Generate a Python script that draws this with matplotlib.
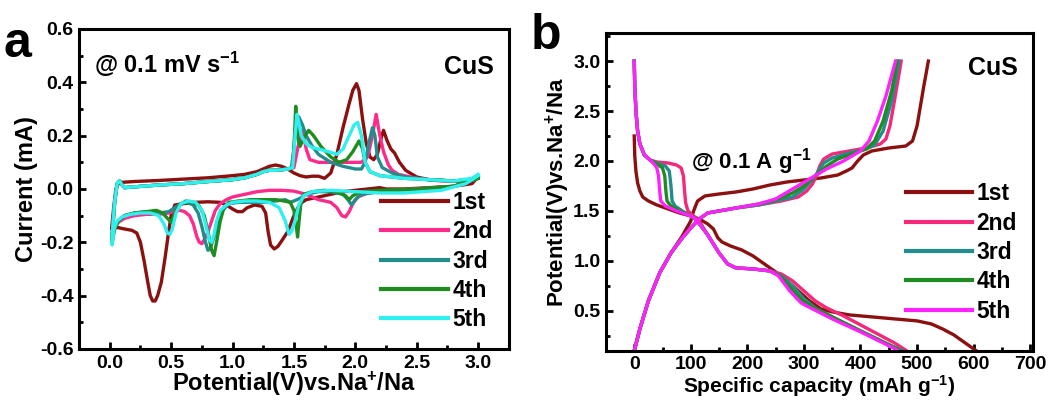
import matplotlib
matplotlib.use("Agg")
import matplotlib.pyplot as plt
from matplotlib.ticker import MultipleLocator

plt.rcParams['font.family'] = ['Liberation Sans', 'DejaVu Sans']
plt.rcParams['font.weight'] = 'bold'
plt.rcParams['mathtext.fontset'] = 'custom'
plt.rcParams['mathtext.rm'] = 'Liberation Sans:bold'
plt.rcParams['mathtext.bf'] = 'Liberation Sans:bold'
plt.rcParams['mathtext.it'] = 'Liberation Sans:bold'
plt.rcParams['mathtext.default'] = 'rm'

labels = ['1st', '2nd', '3rd', '4th', '5th']
colors_a = ['#8B1010', '#FF2A8A', '#238C8C', '#1E8C1E', '#2EF0F0']
colors_b = ['#8B1010', '#F5287A', '#238C8C', '#1E8C1E', '#FF22FF']

# ---------------- CV data (panel a) ----------------
base_v = [0.02, 0.04, 0.06, 0.08, 0.1, 0.12, 0.2, 0.4, 0.6, 0.8, 1.0, 1.1, 1.2, 1.25, 1.3, 1.35, 1.4, 1.45]
base_i = [-0.17, -0.05, 0.02, 0.03, 0.015, 0.005, 0.008, 0.015, 0.02, 0.028, 0.035, 0.042, 0.055, 0.065, 0.07, 0.07, 0.072, 0.075]

c1_cat_v = [3.0, 2.95, 2.8, 2.6, 2.4, 2.25, 2.2, 2.1, 2.0, 1.9, 1.8, 1.7, 1.6, 1.55, 1.5, 1.45, 1.4, 1.37, 1.34, 1.31, 1.29, 1.27, 1.24, 1.18, 1.12, 1.08, 1.04, 1.0, 0.95, 0.9, 0.8, 0.7, 0.6, 0.53, 0.5, 0.48, 0.45, 0.42, 0.39, 0.37, 0.35, 0.33, 0.31, 0.28, 0.25, 0.22, 0.18, 0.12, 0.07, 0.03, 0.015]
c1_cat_i = [0.045, 0.02, 0.01, 0.005, 0.0, 0.0, 0.005, 0.0, -0.005, -0.01, -0.02, -0.03, -0.04, -0.055, -0.1, -0.16, -0.195, -0.215, -0.225, -0.21, -0.16, -0.09, -0.065, -0.06, -0.07, -0.085, -0.085, -0.075, -0.06, -0.05, -0.048, -0.05, -0.055, -0.06, -0.1, -0.16, -0.26, -0.35, -0.4, -0.42, -0.42, -0.4, -0.35, -0.27, -0.2, -0.165, -0.155, -0.15, -0.145, -0.145, -0.15]
c1_an_v = [0.015, 0.03, 0.05, 0.07, 0.1, 0.2, 0.4, 0.6, 0.8, 1.0, 1.1, 1.2, 1.25, 1.3, 1.35, 1.4, 1.45, 1.5, 1.55, 1.6, 1.65, 1.7, 1.75, 1.8, 1.85, 1.9, 1.95, 1.98, 2.01, 2.03, 2.06, 2.09, 2.12, 2.15, 2.18, 2.21, 2.23, 2.26, 2.29, 2.32, 2.36, 2.41, 2.5, 2.6, 2.8, 2.9, 2.95, 3.0]
c1_an_i = [-0.15, -0.08, 0.0, 0.02, 0.025, 0.028, 0.032, 0.037, 0.042, 0.05, 0.055, 0.065, 0.075, 0.085, 0.09, 0.085, 0.075, 0.06, 0.05, 0.045, 0.048, 0.048, 0.04, 0.06, 0.13, 0.23, 0.32, 0.37, 0.395, 0.37, 0.26, 0.17, 0.12, 0.11, 0.13, 0.19, 0.22, 0.18, 0.15, 0.135, 0.1, 0.07, 0.045, 0.035, 0.03, 0.03, 0.035, 0.04]

c2_cat_v = [3.0, 2.8, 2.5, 2.3, 2.1, 2.02, 1.98, 1.95, 1.92, 1.89, 1.85, 1.8, 1.75, 1.7, 1.6, 1.5, 1.4, 1.3, 1.2, 1.1, 1.0, 0.95, 0.9, 0.86, 0.83, 0.8, 0.77, 0.75, 0.73, 0.71, 0.68, 0.65, 0.61, 0.57, 0.52, 0.48, 0.4, 0.3, 0.2, 0.12, 0.07, 0.04, 0.02]
c2_cat_i = [0.04, 0.01, 0.0, -0.005, -0.015, -0.03, -0.055, -0.085, -0.105, -0.1, -0.07, -0.05, -0.045, -0.04, -0.02, -0.008, -0.005, -0.005, -0.01, -0.02, -0.03, -0.04, -0.055, -0.08, -0.12, -0.16, -0.19, -0.205, -0.2, -0.18, -0.13, -0.1, -0.085, -0.08, -0.085, -0.09, -0.095, -0.095, -0.1, -0.11, -0.125, -0.145, -0.17]
c2_an_v = base_v + [1.5, 1.53, 1.56, 1.58, 1.6, 1.63, 1.7, 1.8, 1.9, 2.0, 2.05, 2.1, 2.14, 2.17, 2.2, 2.23, 2.27, 2.3, 2.35, 2.5, 2.7, 2.9, 3.0]
c2_an_i = base_i + [0.08, 0.15, 0.22, 0.2, 0.15, 0.11, 0.1, 0.1, 0.1, 0.1, 0.1, 0.12, 0.2, 0.28, 0.2, 0.14, 0.09, 0.07, 0.055, 0.04, 0.03, 0.03, 0.04]

c3_cat_v = [3.0, 2.8, 2.5, 2.2, 2.05, 2.0, 1.97, 1.94, 1.9, 1.8, 1.7, 1.6, 1.55, 1.5, 1.47, 1.43, 1.35, 1.25, 1.15, 1.05, 0.97, 0.92, 0.88, 0.85, 0.82, 0.8, 0.78, 0.75, 0.72, 0.68, 0.63, 0.58, 0.53, 0.48, 0.4, 0.3, 0.2, 0.12, 0.07, 0.04, 0.02]
c3_cat_i = [0.04, 0.01, 0.0, -0.01, -0.02, -0.04, -0.06, -0.04, -0.02, -0.01, -0.01, -0.02, -0.035, -0.045, -0.05, -0.04, -0.045, -0.05, -0.05, -0.05, -0.055, -0.08, -0.13, -0.18, -0.22, -0.23, -0.2, -0.14, -0.09, -0.06, -0.05, -0.055, -0.07, -0.085, -0.09, -0.085, -0.09, -0.1, -0.12, -0.14, -0.19]
c3_an_v = base_v + [1.48, 1.5, 1.52, 1.54, 1.57, 1.6, 1.65, 1.7, 1.8, 1.9, 2.0, 2.05, 2.08, 2.11, 2.14, 2.16, 2.18, 2.22, 2.3, 2.4, 2.6, 2.8, 2.95, 3.0]
c3_an_i = base_i + [0.08, 0.15, 0.26, 0.27, 0.24, 0.2, 0.16, 0.13, 0.1, 0.085, 0.075, 0.075, 0.1, 0.17, 0.23, 0.2, 0.12, 0.08, 0.06, 0.045, 0.035, 0.03, 0.035, 0.045]

c4_cat_v = [3.0, 2.8, 2.5, 2.2, 2.05, 1.98, 1.95, 1.92, 1.85, 1.75, 1.65, 1.58, 1.555, 1.54, 1.53, 1.52, 1.5, 1.47, 1.42, 1.35, 1.25, 1.15, 1.05, 0.97, 0.93, 0.9, 0.87, 0.85, 0.83, 0.8, 0.77, 0.73, 0.68, 0.62, 0.57, 0.53, 0.5, 0.47, 0.43, 0.38, 0.3, 0.2, 0.12, 0.07, 0.04, 0.02]
c4_cat_i = [0.04, 0.01, 0.0, -0.005, -0.01, -0.025, -0.04, -0.025, -0.01, -0.005, -0.01, -0.02, -0.06, -0.13, -0.18, -0.14, -0.08, -0.05, -0.045, -0.04, -0.04, -0.04, -0.045, -0.05, -0.07, -0.12, -0.2, -0.25, -0.23, -0.16, -0.1, -0.065, -0.05, -0.045, -0.06, -0.09, -0.125, -0.11, -0.09, -0.08, -0.085, -0.09, -0.1, -0.12, -0.15, -0.2]
c4_an_v = base_v + [1.49, 1.505, 1.515, 1.53, 1.55, 1.58, 1.62, 1.66, 1.72, 1.8, 1.87, 1.93, 1.98, 2.03, 2.06, 2.08, 2.12, 2.2, 2.4, 2.6, 2.8, 2.95, 3.0]
c4_an_i = base_i + [0.08, 0.2, 0.31, 0.2, 0.16, 0.19, 0.22, 0.2, 0.16, 0.12, 0.1, 0.11, 0.14, 0.18, 0.15, 0.1, 0.065, 0.05, 0.04, 0.035, 0.03, 0.035, 0.045]

c5_cat_v = [3.0, 2.9, 2.7, 2.4, 2.2, 2.0, 1.8, 1.65, 1.58, 1.54, 1.51, 1.48, 1.46, 1.43, 1.38, 1.3, 1.2, 1.1, 1.0, 0.95, 0.9, 0.87, 0.85, 0.83, 0.81, 0.78, 0.75, 0.7, 0.64, 0.58, 0.54, 0.51, 0.49, 0.47, 0.44, 0.4, 0.33, 0.25, 0.17, 0.1, 0.06, 0.035, 0.02]
c5_cat_i = [0.05, 0.02, -0.005, -0.015, -0.015, -0.01, -0.005, -0.01, -0.025, -0.06, -0.12, -0.16, -0.17, -0.12, -0.07, -0.05, -0.045, -0.045, -0.05, -0.06, -0.08, -0.12, -0.17, -0.2, -0.19, -0.13, -0.08, -0.05, -0.045, -0.055, -0.09, -0.15, -0.17, -0.165, -0.13, -0.1, -0.09, -0.09, -0.095, -0.105, -0.12, -0.15, -0.21]
c5_an_v = base_v + [1.49, 1.51, 1.525, 1.54, 1.56, 1.6, 1.65, 1.7, 1.78, 1.85, 1.9, 1.95, 1.99, 2.02, 2.05, 2.08, 2.12, 2.2, 2.4, 2.6, 2.8, 2.95, 3.0]
c5_an_i = base_i + [0.08, 0.2, 0.28, 0.25, 0.2, 0.17, 0.155, 0.15, 0.14, 0.13, 0.15, 0.2, 0.24, 0.25, 0.2, 0.1, 0.065, 0.05, 0.04, 0.035, 0.03, 0.04, 0.055]

cv_cycles = [
    (c1_cat_v, c1_cat_i, c1_an_v, c1_an_i),
    (c2_cat_v, c2_cat_i, c2_an_v, c2_an_i),
    (c3_cat_v, c3_cat_i, c3_an_v, c3_an_i),
    (c4_cat_v, c4_cat_i, c4_an_v, c4_an_i),
    (c5_cat_v, c5_cat_i, c5_an_v, c5_an_i),
]

# ---------------- GCD data (panel b) ----------------
d1_cap = [0, 1, 3, 6, 10, 15, 25, 40, 60, 80, 100, 115, 130, 140, 148, 155, 170, 190, 210, 230, 250, 270, 290, 310, 330, 350, 380, 420, 460, 500, 525, 545, 565, 585, 605]
d1_v = [2.25, 2.05, 1.9, 1.78, 1.7, 1.64, 1.6, 1.56, 1.52, 1.48, 1.45, 1.42, 1.37, 1.32, 1.23, 1.19, 1.15, 1.11, 1.05, 0.97, 0.89, 0.8, 0.7, 0.6, 0.52, 0.49, 0.46, 0.44, 0.42, 0.4, 0.37, 0.32, 0.26, 0.18, 0.1]
ch1_cap = [0, 10, 25, 45, 65, 85, 100, 105, 112, 125, 150, 180, 210, 240, 270, 300, 330, 360, 375, 385, 395, 405, 420, 450, 480, 492, 500, 506, 512, 520]
ch1_v = [0.1, 0.32, 0.6, 0.88, 1.08, 1.25, 1.4, 1.5, 1.6, 1.65, 1.67, 1.69, 1.72, 1.76, 1.79, 1.81, 1.83, 1.86, 1.9, 1.93, 2.0, 2.06, 2.1, 2.13, 2.15, 2.2, 2.35, 2.55, 2.75, 3.0]

d2_cap = [0, 1, 3, 6, 10, 18, 28, 40, 60, 75, 83, 87, 89, 91, 95, 105, 115, 130, 150, 165, 180, 210, 240, 260, 280, 300, 320, 340, 370, 400, 430, 460, 482]
d2_v = [3.0, 2.75, 2.5, 2.3, 2.17, 2.06, 2.01, 1.99, 1.98, 1.96, 1.93, 1.85, 1.7, 1.58, 1.5, 1.45, 1.4, 1.26, 1.08, 0.97, 0.93, 0.92, 0.9, 0.87, 0.8, 0.7, 0.6, 0.53, 0.45, 0.36, 0.27, 0.18, 0.1]
ch2_cap = [0, 10, 25, 45, 65, 85, 100, 115, 130, 150, 180, 220, 260, 290, 305, 315, 322, 328, 335, 350, 380, 410, 435, 445, 452, 460, 472]
ch2_v = [0.1, 0.32, 0.6, 0.88, 1.08, 1.23, 1.33, 1.42, 1.48, 1.5, 1.53, 1.56, 1.6, 1.64, 1.7, 1.77, 1.85, 1.95, 2.02, 2.07, 2.1, 2.13, 2.17, 2.22, 2.35, 2.6, 3.0]

d3_cap = [0, 1, 3, 6, 10, 18, 28, 40, 55, 62, 65, 67, 72, 85, 100, 110, 130, 150, 165, 180, 210, 240, 260, 280, 300, 320, 350, 400, 440, 475]
d3_v = [3.0, 2.75, 2.5, 2.3, 2.17, 2.06, 2.01, 1.98, 1.95, 1.9, 1.75, 1.6, 1.55, 1.5, 1.45, 1.41, 1.26, 1.08, 0.97, 0.93, 0.92, 0.9, 0.85, 0.75, 0.62, 0.53, 0.44, 0.3, 0.19, 0.1]
ch3_cap = [0, 10, 25, 45, 65, 85, 100, 115, 130, 150, 180, 220, 250, 280, 300, 320, 335, 350, 380, 410, 425, 440, 455, 468]
ch3_v = [0.1, 0.32, 0.6, 0.88, 1.08, 1.23, 1.33, 1.42, 1.48, 1.5, 1.53, 1.56, 1.6, 1.64, 1.72, 1.85, 1.98, 2.03, 2.08, 2.12, 2.16, 2.3, 2.6, 3.0]

d4_cap = [0, 1, 3, 6, 10, 18, 28, 40, 50, 54, 56, 58, 65, 80, 100, 110, 130, 150, 165, 180, 210, 240, 258, 278, 298, 318, 350, 400, 440, 472]
d4_v = [3.0, 2.75, 2.5, 2.3, 2.17, 2.06, 2.01, 1.97, 1.93, 1.85, 1.7, 1.6, 1.55, 1.5, 1.45, 1.41, 1.26, 1.08, 0.97, 0.93, 0.92, 0.9, 0.85, 0.72, 0.6, 0.53, 0.44, 0.3, 0.19, 0.1]
ch4_cap = [0, 10, 25, 45, 65, 85, 100, 115, 130, 150, 180, 220, 250, 280, 300, 320, 340, 360, 390, 410, 425, 440, 455, 465]
ch4_v = [0.1, 0.32, 0.6, 0.88, 1.08, 1.23, 1.33, 1.42, 1.48, 1.5, 1.53, 1.57, 1.61, 1.68, 1.75, 1.85, 1.95, 2.02, 2.08, 2.12, 2.2, 2.4, 2.7, 3.0]

d5_cap = [0, 1, 3, 6, 10, 18, 28, 35, 40, 43, 45, 47, 55, 75, 100, 110, 130, 150, 165, 180, 210, 240, 255, 275, 295, 315, 350, 400, 440, 468]
d5_v = [3.0, 2.75, 2.5, 2.3, 2.17, 2.06, 2.01, 1.97, 1.93, 1.85, 1.7, 1.6, 1.55, 1.5, 1.45, 1.41, 1.26, 1.08, 0.97, 0.93, 0.92, 0.9, 0.85, 0.7, 0.58, 0.52, 0.42, 0.29, 0.18, 0.1]
ch5_cap = [0, 10, 25, 45, 65, 85, 100, 115, 130, 150, 180, 220, 250, 280, 310, 340, 370, 400, 415, 430, 445, 462]
ch5_v = [0.1, 0.32, 0.6, 0.88, 1.08, 1.23, 1.33, 1.42, 1.48, 1.5, 1.53, 1.57, 1.62, 1.72, 1.82, 1.92, 2.0, 2.1, 2.2, 2.4, 2.65, 3.0]

gcd_cycles = [
    (d1_cap, d1_v, ch1_cap, ch1_v),
    (d2_cap, d2_v, ch2_cap, ch2_v),
    (d3_cap, d3_v, ch3_cap, ch3_v),
    (d4_cap, d4_v, ch4_cap, ch4_v),
    (d5_cap, d5_v, ch5_cap, ch5_v),
]

fig = plt.figure(figsize=(10.61, 4.01), dpi=100)
ax1 = fig.add_axes([0.0745, 0.1297, 0.405, 0.798])
ax2 = fig.add_axes([0.5711, 0.125, 0.4025, 0.7925])

lw = 2.4
for (cv, ci, av, ai), col, lab in zip(cv_cycles, colors_a, labels):
    ax1.plot(list(cv) + list(av), list(ci) + list(ai), color=col, lw=lw, label=lab,
             solid_joinstyle='round')

for (dc, dv, cc, chv), col, lab in zip(gcd_cycles, colors_b, labels):
    ax2.plot(dc, dv, color=col, lw=lw, label=lab, solid_joinstyle='round')
    ax2.plot(cc, chv, color=col, lw=lw, solid_joinstyle='round')

tick_fs = 14
for ax in (ax1, ax2):
    for s in ax.spines.values():
        s.set_linewidth(2.2)
    ax.tick_params(which='both', direction='in', width=2.0, labelsize=tick_fs, pad=4)
    ax.tick_params(which='major', length=5)
    ax.tick_params(which='minor', length=3)
    ax.tick_params(top=False, right=False)

ax1.set_xlim(-0.25, 3.25)
ax1.set_ylim(-0.6, 0.6)
ax1.xaxis.set_minor_locator(MultipleLocator(0.25))
ax1.yaxis.set_minor_locator(MultipleLocator(0.1))
ax1.set_xticks([0.0, 0.5, 1.0, 1.5, 2.0, 2.5, 3.0])
ax1.set_xticklabels(['0.0', '0.5', '1.0', '1.5', '2.0', '2.5', '3.0'], fontweight='bold')
ax1.set_yticks([-0.6, -0.4, -0.2, 0.0, 0.2, 0.4, 0.6])
ax1.set_yticklabels(['-0.6', '-0.4', '-0.2', '0.0', '0.2', '0.4', '0.6'], fontweight='bold')
ax1.set_xlabel('Potential(V)vs.Na$^{+}$/Na', fontsize=17, fontweight='bold', labelpad=-1)
ax1.set_ylabel('Current (mA)', fontsize=17, fontweight='bold', labelpad=1)

ax2.set_xlim(-50, 705)
ax2.set_ylim(0.1, 3.28)
ax2.xaxis.set_minor_locator(MultipleLocator(50))
ax2.yaxis.set_minor_locator(MultipleLocator(0.25))
ax2.set_xticks([0, 100, 200, 300, 400, 500, 600, 700])
ax2.set_xticklabels(['0', '100', '200', '300', '400', '500', '600', '700'], fontweight='bold')
ax2.set_yticks([0.5, 1.0, 1.5, 2.0, 2.5, 3.0])
ax2.set_yticklabels(['0.5', '1.0', '1.5', '2.0', '2.5', '3.0'], fontweight='bold')
ax2.set_xlabel('Specific capacity (mAh g$^{-1}$)', fontsize=15, fontweight='bold', labelpad=0)
ax2.set_ylabel('Potential(V)vs.Na$^{+}$/Na', fontsize=16, fontweight='bold', labelpad=1)

leg_kw = dict(frameon=False, fontsize=16.5, handlelength=2.9, handletextpad=0.2,
              labelspacing=0.28, borderaxespad=0.2)
l1 = ax1.legend(loc='lower right', bbox_to_anchor=(0.995, 0.012), **leg_kw)
l2 = ax2.legend(loc='lower right', bbox_to_anchor=(0.995, 0.045), **leg_kw)
for lg in (l1, l2):
    for t in lg.get_texts():
        t.set_fontweight('bold')
    for h in lg.get_lines():
        h.set_linewidth(3.0)

ax1.text(0.035, 0.89, '@ 0.1 mV s$^{-1}$', transform=ax1.transAxes, fontsize=17,
         fontweight='bold', va='center', ha='left')
ax1.text(0.965, 0.88, 'CuS', transform=ax1.transAxes, fontsize=18,
         fontweight='bold', va='center', ha='right')
ax2.text(0.965, 0.89, 'CuS', transform=ax2.transAxes, fontsize=18,
         fontweight='bold', va='center', ha='right')
ax2.text(0.20, 0.595, '@ 0.1 A g$^{-1}$', transform=ax2.transAxes, fontsize=16,
         fontweight='bold', va='center', ha='left')

fig.text(0.003, 0.89, 'a', fontsize=36, fontweight='bold', va='center', ha='left')
fig.text(0.500, 0.91, 'b', fontsize=36, fontweight='bold', va='center', ha='left')

fig.savefig('out.png', dpi=100)
